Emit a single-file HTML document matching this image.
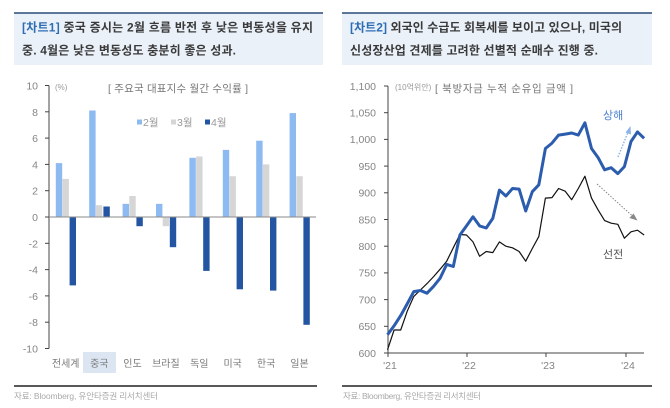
<!DOCTYPE html>
<html><head><meta charset="utf-8"><style>
html,body{margin:0;padding:0;background:#fff;}
svg{display:block;}
text{font-family:"Liberation Sans","Noto Sans CJK KR",sans-serif;}
.hd{font-size:12px;font-weight:bold;fill:#3a3a3a;}
.tk{font-size:10.5px;fill:#858585;}
.cat{font-size:10px;fill:#7a7a7a;}
.src{font-size:8.5px;fill:#aaa;}
</style></head><body>
<svg width="670" height="408" viewBox="0 0 670 408" xmlns="http://www.w3.org/2000/svg">
<!-- header boxes -->
<rect x="14" y="12.5" width="309" height="52.5" fill="#eaf1f9"/>
<line x1="14" y1="13" x2="323" y2="13" stroke="#2a4a78" stroke-width="1.5"/>
<rect x="342" y="12.5" width="310" height="52.5" fill="#eaf1f9"/>
<line x1="342" y1="13" x2="652" y2="13" stroke="#2a4a78" stroke-width="1.5"/>

<text class="hd" x="22" y="31.5" textLength="291" lengthAdjust="spacing"><tspan fill="#2e6db4">[차트1]</tspan> 중국 증시는 2월 흐름 반전 후 낮은 변동성을 유지</text>
<text class="hd" x="22" y="54.5" textLength="214" lengthAdjust="spacing">중. 4월은 낮은 변동성도 충분히 좋은 성과.</text>
<text class="hd" x="350" y="31.5" textLength="272" lengthAdjust="spacing"><tspan fill="#2e6db4">[차트2]</tspan> 외국인 수급도 회복세를 보이고 있으나, 미국의</text>
<text class="hd" x="350" y="54.5" textLength="248" lengthAdjust="spacing">신성장산업 견제를 고려한 선별적 순매수 진행 중.</text>

<!-- ===== LEFT CHART ===== -->
<text x="55" y="90" style="font-size:8px;fill:#999">(%)</text>
<text x="108" y="92" style="font-size:10.5px;fill:#777" textLength="140" lengthAdjust="spacing">[ 주요국 대표지수 월간 수익률 ]</text>
<!-- legend -->
<rect x="137" y="119.5" width="5" height="5" fill="#8dbaf0"/>
<text x="143" y="126" style="font-size:10.5px;fill:#999">2월</text>
<rect x="171" y="119.5" width="5" height="5" fill="#d6d6d6"/>
<text x="177" y="126" style="font-size:10.5px;fill:#999">3월</text>
<rect x="205" y="119.5" width="5" height="5" fill="#2455a3"/>
<text x="211" y="126" style="font-size:10.5px;fill:#999">4월</text>

<!-- y ticks -->
<g class="tk" text-anchor="end">
<text x="38" y="89.5">10</text>
<text x="38" y="115.8">8</text>
<text x="38" y="142.1">6</text>
<text x="38" y="168.4">4</text>
<text x="38" y="194.7">2</text>
<text x="38" y="221">0</text>
<text x="38" y="247.3">-2</text>
<text x="38" y="273.6">-4</text>
<text x="38" y="299.9">-6</text>
<text x="38" y="326.2">-8</text>
<text x="38" y="352.5">-10</text>
</g>
<g stroke="#444" stroke-width="1">
<line x1="49" y1="85.5" x2="49" y2="348.5"/>
<line x1="45" y1="85.5" x2="49" y2="85.5"/>
<line x1="45" y1="111.8" x2="49" y2="111.8"/>
<line x1="45" y1="138.1" x2="49" y2="138.1"/>
<line x1="45" y1="164.4" x2="49" y2="164.4"/>
<line x1="45" y1="190.7" x2="49" y2="190.7"/>
<line x1="45" y1="217" x2="49" y2="217"/>
<line x1="45" y1="243.3" x2="49" y2="243.3"/>
<line x1="45" y1="269.6" x2="49" y2="269.6"/>
<line x1="45" y1="295.9" x2="49" y2="295.9"/>
<line x1="45" y1="322.2" x2="49" y2="322.2"/>
<line x1="45" y1="348.5" x2="49" y2="348.5"/>
</g>

<!-- bars -->
<g fill="#8dbaf0">
<rect x="55.8" y="163.1" width="6.4" height="53.9"/>
<rect x="89.2" y="110.5" width="6.4" height="106.5"/>
<rect x="122.6" y="203.85" width="6.4" height="13.15"/>
<rect x="156" y="203.85" width="6.4" height="13.15"/>
<rect x="189.4" y="157.8" width="6.4" height="59.2"/>
<rect x="222.8" y="149.9" width="6.4" height="67.1"/>
<rect x="256.2" y="140.7" width="6.4" height="76.3"/>
<rect x="289.6" y="113.1" width="6.4" height="103.9"/>
</g>
<g fill="#d6d6d6">
<rect x="62.5" y="178.9" width="6.4" height="38.1"/>
<rect x="95.9" y="205.2" width="6.4" height="11.8"/>
<rect x="129.3" y="196" width="6.4" height="21"/>
<rect x="162.7" y="217" width="6.4" height="9.2"/>
<rect x="196.1" y="156.5" width="6.4" height="60.5"/>
<rect x="229.5" y="176.2" width="6.4" height="40.8"/>
<rect x="262.9" y="164.4" width="6.4" height="52.6"/>
<rect x="296.3" y="176.2" width="6.4" height="40.8"/>
</g>
<g fill="#2455a3">
<rect x="69.6" y="217" width="6.4" height="68.4"/>
<rect x="103.4" y="206.5" width="6.4" height="10.5"/>
<rect x="136.4" y="217" width="6.4" height="9.2"/>
<rect x="169.8" y="217" width="6.4" height="30.2"/>
<rect x="203.2" y="217" width="6.4" height="53.9"/>
<rect x="236.6" y="217" width="6.4" height="72.3"/>
<rect x="270" y="217" width="6.4" height="73.6"/>
<rect x="303.4" y="217" width="6.4" height="107.8"/>
</g>
<line x1="49" y1="217" x2="316" y2="217" stroke="#8a8a8a" stroke-width="1"/>

<!-- categories -->
<rect x="83" y="352" width="33" height="21" fill="#dce6f2"/>
<g class="cat" text-anchor="middle">
<text x="65.7" y="367">전세계</text>
<text x="99.3" y="367">중국</text>
<text x="132.5" y="367">인도</text>
<text x="165.9" y="367">브라질</text>
<text x="199.3" y="367">독일</text>
<text x="232.7" y="367">미국</text>
<text x="266.1" y="367">한국</text>
<text x="299.5" y="367">일본</text>
</g>

<line x1="14" y1="386" x2="317" y2="386" stroke="#222" stroke-width="1.5"/>
<text class="src" x="14" y="399" textLength="144" lengthAdjust="spacing">자료: Bloomberg, 유안타증권 리서치센터</text>

<!-- ===== RIGHT CHART ===== -->
<text x="395" y="90" style="font-size:8px;fill:#999">(10억위안)</text>
<text x="435" y="92" style="font-size:10.5px;fill:#777" textLength="138" lengthAdjust="spacing">[ 북방자금 누적 순유입 금액 ]</text>

<g class="tk" text-anchor="end">
<text x="376" y="89.8">1,100</text>
<text x="376" y="116.5">1,050</text>
<text x="376" y="143.2">1,000</text>
<text x="376" y="169.9">950</text>
<text x="376" y="196.6">900</text>
<text x="376" y="223.3">850</text>
<text x="376" y="250">800</text>
<text x="376" y="276.7">750</text>
<text x="376" y="303.4">700</text>
<text x="376" y="330.1">650</text>
<text x="376" y="356.8">600</text>
</g>
<g stroke="#444" stroke-width="1">
<line x1="388" y1="86" x2="388" y2="353"/>
<line x1="384" y1="86" x2="388" y2="86"/>
<line x1="384" y1="112.7" x2="388" y2="112.7"/>
<line x1="384" y1="139.4" x2="388" y2="139.4"/>
<line x1="384" y1="166.1" x2="388" y2="166.1"/>
<line x1="384" y1="192.8" x2="388" y2="192.8"/>
<line x1="384" y1="219.5" x2="388" y2="219.5"/>
<line x1="384" y1="246.2" x2="388" y2="246.2"/>
<line x1="384" y1="272.9" x2="388" y2="272.9"/>
<line x1="384" y1="299.6" x2="388" y2="299.6"/>
<line x1="384" y1="326.3" x2="388" y2="326.3"/>
<line x1="384" y1="353" x2="388" y2="353"/>
<line x1="388" y1="353" x2="644" y2="353"/>
<line x1="388" y1="353" x2="388" y2="357"/>
<line x1="467" y1="353" x2="467" y2="357"/>
<line x1="546" y1="353" x2="546" y2="357"/>
<line x1="626" y1="353" x2="626" y2="357"/>
</g>
<g class="tk" text-anchor="middle">
<text x="390" y="369">'21</text>
<text x="469" y="369">'22</text>
<text x="548" y="369">'23</text>
<text x="628" y="369">'24</text>
</g>

<!-- black line 선전 -->
<polyline fill="none" stroke="#111" stroke-width="1.2" stroke-linejoin="round" points="387.5,349.8 394.1,330 400.7,330 407.2,311.3 413.8,296.4 420.4,290 427,283.6 433.6,276.6 440.1,269.2 446.7,261.2 453.3,247.8 459.9,234.5 466.5,235 473,241.9 479.6,256.3 486.2,251.5 492.8,252.6 499.4,241.9 505.9,246.2 512.5,247.8 519.1,251.5 525.7,261.2 532.3,248.5 538.8,236.6 545.4,198.1 552,197.6 558.6,188.5 565.2,191.2 571.7,199.7 578.3,188.5 584.9,176.2 591.5,198.1 598.1,209.9 604.6,220.6 611.2,223.2 617.8,224.3 624.4,238.2 631,231.8 637.5,230.2 644.1,235"/>
<!-- blue line 상해 -->
<polyline fill="none" stroke="#2b5cae" stroke-width="3" stroke-linejoin="round" points="387.5,334.8 394.1,325.8 400.7,315.6 407.2,303.9 413.8,291.6 420.4,290.5 427,293.2 433.6,286.3 440.1,278.2 446.7,264.4 453.3,266.5 459.9,235 466.5,225.9 473,216.8 479.6,225.9 486.2,228 492.8,218.4 499.4,190.1 505.9,196 512.5,188.5 519.1,189.1 525.7,211 532.3,191.7 538.8,184.8 545.4,148.5 552,143.1 558.6,135.1 565.2,134.1 571.7,133 578.3,135.1 584.9,122.8 591.5,148.5 598.1,157.6 604.6,169.8 611.2,167.7 617.8,173.6 624.4,166.6 631,141.5 637.5,131.9 644.1,138.3"/>

<!-- annotations -->
<text x="603" y="119" style="font-size:11px;fill:#4a7fd0">상해</text>
<text x="603" y="258" style="font-size:11px;fill:#555">선전</text>
<line x1="618" y1="157" x2="628.5" y2="131" stroke="#8db4ea" stroke-width="1.5" stroke-dasharray="1.5,1.5"/>
<polygon points="630.5,126 631,134.5 625.5,132.5" fill="#8db4ea"/>
<line x1="597" y1="184" x2="633" y2="216.5" stroke="#888" stroke-width="1" stroke-dasharray="1.5,1.5"/>
<polygon points="637.5,220.5 629.5,218 633.5,213.5" fill="#888"/>

<line x1="342" y1="386" x2="652" y2="386" stroke="#222" stroke-width="1.5"/>
<text class="src" x="343" y="399" textLength="138" lengthAdjust="spacing">자료: Bloomberg, 유안타증권 리서치센터</text>
</svg>
</body></html>
